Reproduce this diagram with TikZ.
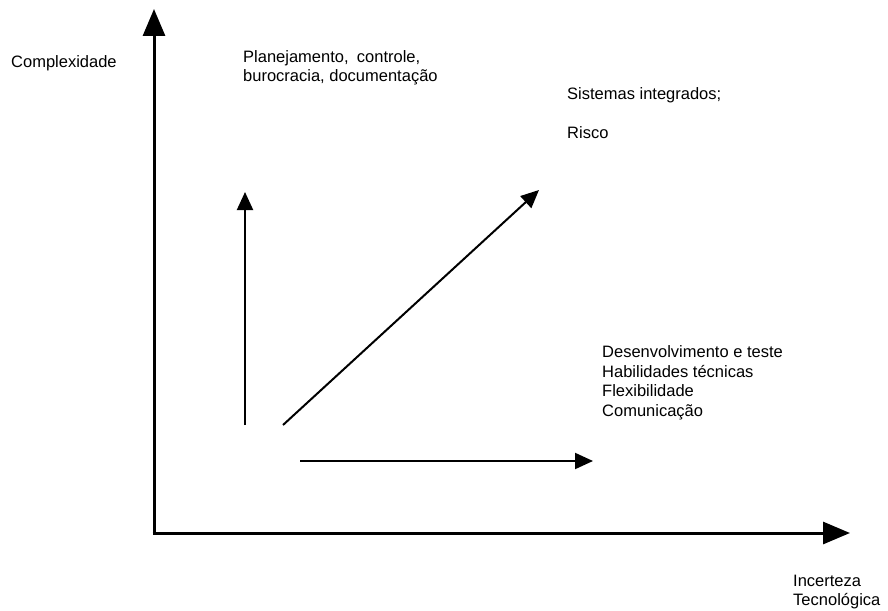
\documentclass[tikz,border=0pt]{standalone}
\usepackage{fontspec}
\setmainfont{Liberation Sans}
\usetikzlibrary{arrows.meta}

\begin{document}
\begin{tikzpicture}[x=1pt,y=-1pt,
    axis/.style={line width=3pt,-{Triangle[length=27pt,width=22pt]}},
    trend/.style={line width=2pt,-{Triangle[length=18pt,width=16pt]}},
    lbl/.style={inner sep=0pt,anchor=west,align=left,
      font=\fontsize{16.5}{19.5}\selectfont}]
  \useasboundingbox (0,0) rectangle (888,610);

  % axes
  \coordinate (origin) at (154,533);
  \coordinate (ytip) at (154,9);
  \coordinate (xtip) at (850,533);
  \draw[axis] (origin) -- (ytip);
  \draw[axis] ([xshift=-1.5pt]origin) -- (xtip);

  % trend arrows
  \coordinate (v0) at (245,425);
  \coordinate (v1) at (245,192);
  \coordinate (d0) at (283,425);
  \coordinate (d1) at (539,190);
  \coordinate (h0) at (300,461);
  \coordinate (h1) at (593,461);
  \draw[trend] (v0) -- (v1);
  \draw[trend] (d0) -- (d1);
  \draw[trend] (h0) -- (h1);

  % labels
  \node[lbl] (ylabel) at (11,63) {Complexidade};
  \node[lbl] (plan) at (243,68) {Planejamento,\hspace{0.5em}controle,\\burocracia, documentação};
  \node[lbl] (sis) at (567,95) {Sistemas integrados;};
  \node[lbl] (risco) at (567,133) {Risco};
  \node[lbl] (dev) at (602,383) {Desenvolvimento e teste\\Habilidades técnicas\\Flexibilidade\\Comunicação};
  \node[lbl] (xlabel) at (793,592) {Incerteza\\Tecnológica};
\end{tikzpicture}
\end{document}
